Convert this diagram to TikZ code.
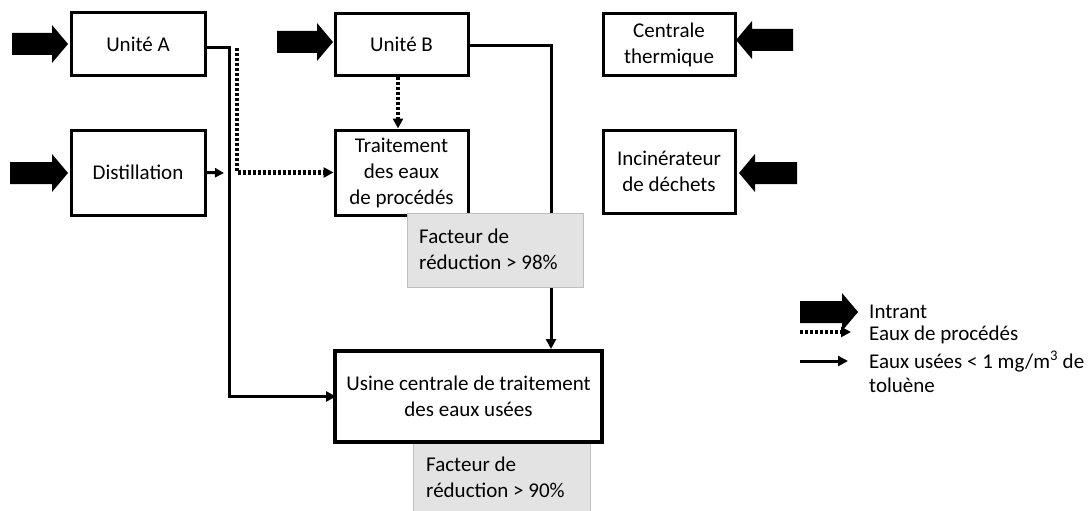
\documentclass[tikz,border=0pt]{standalone}
\usepackage{fontspec}
\setmainfont{Carlito}
\usetikzlibrary{arrows.meta,calc}
\newcommand\intrantR[3]{\fill (#1,{#3-11}) -- ({#2-16},{#3-11}) -- ({#2-16},{#3-19}) -- (#2,#3) -- ({#2-16},{#3+19}) -- ({#2-16},{#3+11}) -- (#1,{#3+11}) -- cycle;}
\newcommand\intrantL[3]{\fill (#1,{#3-11}) -- ({#2+16},{#3-11}) -- ({#2+16},{#3-19}) -- (#2,#3) -- ({#2+16},{#3+19}) -- ({#2+16},{#3+11}) -- (#1,{#3+11}) -- cycle;}
\begin{document}
\begin{tikzpicture}[x=1pt,y=-1pt,
  txt/.style={font=\fontsize{21}{26}\selectfont, text=black},
  box/.style={txt, draw, line width=3pt, align=center, inner sep=0pt},
  gbox/.style={draw=black!25, fill=black!11, line width=1pt, inner sep=0pt},
  gtxt/.style={txt, align=left, anchor=west, inner sep=0pt},
  flow/.style={line width=3pt, line join=miter, -{Triangle[length=10pt,width=10pt]}},
  proc/.style={line width=4.5pt, dash pattern=on 3pt off 2pt, -{Triangle[length=10pt,width=10pt]}},
  lbl/.style={txt, anchor=base west, inner sep=0pt}]
\clip (0,0) rectangle (1089,511);
\fill[white] (0,0) rectangle (1089,511);

% boxes
\node[box, minimum width=134pt, minimum height=62pt] (ua) at (138,44) {Unité A};
\node[box, minimum width=134pt, minimum height=85pt] (dist) at (138,172.5) {Distillation};
\node[box, minimum width=133pt, minimum height=61pt] (ub) at (401.5,44.5) {Unité B};
\node[box, minimum width=133pt, minimum height=85pt] (trait) at (401.5,172.5) {Traitement\\des eaux\\de procédés};
\node[box, minimum width=132pt, minimum height=61pt] (cent) at (669,44.5) {Centrale\\thermique};
\node[box, minimum width=132pt, minimum height=83pt] (inc) at (669,171.5) {Incinérateur\\de déchets};

% connectors
\coordinate (j) at (229,173);
\coordinate (pa) at (237,48);
\coordinate (uin) at (551,349);
\draw[flow] ($(ua.east)+(-3,4)$) -| (j) |- (336,396.5);
\draw[line width=3pt, -{Triangle[length=9pt,width=9pt]}] (dist.east) -- ($(j)+(-5,0)$);
\draw[proc] (pa) |- (trait.west);
\draw[proc] ($(ub.south)+(-3.5,0)$) -- ($(trait.north)+(-3.5,0)$);
\draw[flow] ($(ub.east)+(-2,1.5)$) -| (uin);

% reduction boxes and central plant
\node[gbox, minimum width=176pt, minimum height=74pt] (g1) at (495,250) {};
\node[gtxt] (t1) at (419,249) {Facteur de\\réduction > 98\%};
\node[gbox, minimum width=177pt, minimum height=72pt] (g2) at (501.5,478) {};
\node[gtxt] (t2) at (426,477) {Facteur de\\réduction > 90\%};
\node[box, line width=4pt, minimum width=267pt, minimum height=91pt] (usine) at (468.5,396.5) {Usine centrale de traitement\\des eaux usées};

% input arrows
\intrantR{12}{68}{44}
\intrantR{10}{68}{173}
\intrantR{277}{333}{42}
\intrantL{793}{736}{40}
\intrantL{797}{739}{173}

% legend
\intrantR{800}{858}{312}
\coordinate (d1) at (800,332);
\coordinate (d2) at (851,332);
\draw[proc, line width=3.5pt] (d1) -- (d2);
\coordinate (s1) at (800,361);
\coordinate (s2) at (848,361);
\draw[flow] (s1) -- (s2);
\node[lbl] (l1) at (869,318) {Intrant};
\node[lbl] (l2) at (869,340) {Eaux de procédés};
\node[lbl] (l3) at (869,368) {Eaux usées < 1 mg/m\textsuperscript{3} de};
\node[lbl] (l4) at (869,392) {toluène};
\end{tikzpicture}
\end{document}
